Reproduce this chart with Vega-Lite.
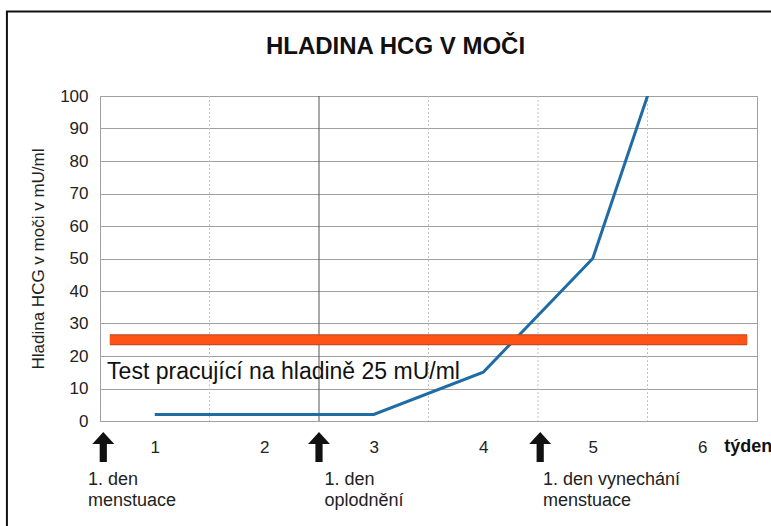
{
  "$schema": "https://vega.github.io/schema/vega-lite/v6.json",
  "width": 657,
  "height": 325,
  "autosize": "none",
  "padding": {"left": 100, "top": 96, "right": 14, "bottom": 105},
  "background": "white",
  "config": {
    "font": "Liberation Sans",
    "view": {"stroke": "#A0A0A0", "strokeWidth": 1},
    "axisX": {"grid": false, "ticks": false, "domain": false, "labelFontSize": 17, "labelColor": "#222", "labelPadding": 18, "labelFont": "Liberation Sans"},
    "axisY": {"grid": true, "gridColor": "#A0A0A0", "gridWidth": 1, "ticks": false, "domain": false, "labelFontSize": 17, "labelColor": "#222", "labelPadding": 12, "labelFont": "Liberation Sans", "titleFont": "Liberation Sans", "titleFontSize": 17, "titleFontWeight": "normal", "titleColor": "#222", "titlePadding": 12}
  },
  "title": {
    "text": "HLADINA HCG V MOČI",
    "font": "Liberation Sans",
    "fontSize": 24,
    "fontWeight": "bold",
    "color": "#111",
    "anchor": "middle",
    "dx": -33,
    "offset": -48
  },
  "layer": [
    {
      "data": {"values": [{}]},
      "mark": {"type": "rect", "fill": "transparent", "stroke": "#111", "strokeWidth": 2},
      "encoding": {
        "x": {"datum": -0.35, "type": "quantitative", "scale": {"domain": [0.5, 6.5], "zero": false, "nice": false}, "axis": {"values": [1, 2, 3, 4, 5, 6], "title": null}},
        "x2": {"datum": 8},
        "y": {"datum": 126, "type": "quantitative", "scale": {"domain": [0, 100], "zero": false, "nice": false}, "axis": {"values": [0, 10, 20, 30, 40, 50, 60, 70, 80, 90, 100], "title": "Hladina HCG v moči v mU/ml"}},
        "y2": {"datum": -40}
      }
    },
    {
      "data": {"values": [{"x": 1.5}, {"x": 3.5}, {"x": 4.5}, {"x": 5.5}]},
      "mark": {"type": "rule", "color": "#C4C4C4", "strokeWidth": 1, "strokeDash": [2, 2]},
      "encoding": {
        "x": {"field": "x", "type": "quantitative", "scale": {"domain": [0.5, 6.5], "zero": false, "nice": false}, "axis": {"values": [1, 2, 3, 4, 5, 6], "title": null}}
      }
    },
    {
      "data": {"values": [{"x": 2.5}]},
      "mark": {"type": "rule", "color": "#555555", "strokeWidth": 1},
      "encoding": {
        "x": {"field": "x", "type": "quantitative", "scale": {"domain": [0.5, 6.5], "zero": false, "nice": false}, "axis": {"values": [1, 2, 3, 4, 5, 6], "title": null}}
      }
    },
    {
      "data": {"values": [{"week": 1, "hcg": 2}, {"week": 2, "hcg": 2}, {"week": 3, "hcg": 2}, {"week": 4, "hcg": 15}, {"week": 5, "hcg": 50}, {"week": 6, "hcg": 150}]},
      "mark": {"type": "line", "color": "#1F6BA5", "strokeWidth": 3, "clip": true},
      "encoding": {
        "x": {"field": "week", "type": "quantitative", "scale": {"domain": [0.5, 6.5], "zero": false, "nice": false}, "axis": {"values": [1, 2, 3, 4, 5, 6], "title": null}},
        "y": {"field": "hcg", "type": "quantitative", "scale": {"domain": [0, 100], "zero": false, "nice": false}, "axis": {"values": [0, 10, 20, 30, 40, 50, 60, 70, 80, 90, 100], "title": "Hladina HCG v moči v mU/ml"}}
      }
    },
    {
      "data": {"values": [{"from": 0.59, "to": 6.41, "level": 25}]},
      "layer": [
        {"mark": {"type": "rule", "color": "#B8461E", "strokeWidth": 11}, "encoding": {}},
        {"mark": {"type": "rule", "color": "#FF5215", "strokeWidth": 9}, "encoding": {}}
      ],
      "encoding": {
        "x": {"field": "from", "type": "quantitative", "scale": {"domain": [0.5, 6.5], "zero": false, "nice": false}, "axis": {"values": [1, 2, 3, 4, 5, 6], "title": null}},
        "x2": {"field": "to"},
        "y": {"field": "level", "type": "quantitative", "scale": {"domain": [0, 100], "zero": false, "nice": false}, "axis": {"values": [0, 10, 20, 30, 40, 50, 60, 70, 80, 90, 100], "title": "Hladina HCG v moči v mU/ml"}}
      }
    },
    {
      "data": {"values": [
        {"x": 0.565, "y": 15.1, "label": "Test pracující na hladině 25 mU/ml"}
      ]},
      "mark": {"type": "text", "align": "left", "baseline": "middle", "fontSize": 23, "color": "#111", "font": "Liberation Sans"},
      "encoding": {
        "x": {"field": "x", "type": "quantitative", "scale": {"domain": [0.5, 6.5], "zero": false, "nice": false}, "axis": {"values": [1, 2, 3, 4, 5, 6], "title": null}},
        "y": {"field": "y", "type": "quantitative", "scale": {"domain": [0, 100], "zero": false, "nice": false}, "axis": {"values": [0, 10, 20, 30, 40, 50, 60, 70, 80, 90, 100], "title": "Hladina HCG v moči v mU/ml"}},
        "text": {"field": "label"}
      }
    },
    {
      "data": {"values": [{"x": 0.53, "y": -8}, {"x": 2.5, "y": -8}, {"x": 4.52, "y": -8}]},
      "mark": {"type": "point", "filled": true, "color": "#111", "opacity": 1, "size": 900, "shape": "M0,-1 L0.73,-0.2 L0.24,-0.2 L0.24,1 L-0.24,1 L-0.24,-0.2 L-0.73,-0.2 Z"},
      "encoding": {
        "x": {"field": "x", "type": "quantitative", "scale": {"domain": [0.5, 6.5], "zero": false, "nice": false}, "axis": {"values": [1, 2, 3, 4, 5, 6], "title": null}},
        "y": {"field": "y", "type": "quantitative", "scale": {"domain": [0, 100], "zero": false, "nice": false}, "axis": {"values": [0, 10, 20, 30, 40, 50, 60, 70, 80, 90, 100], "title": "Hladina HCG v moči v mU/ml"}}
      }
    },
    {
      "data": {"values": [
        {"x": 0.39, "y": -15.4, "label": "1. den\nmenstuace"},
        {"x": 2.55, "y": -15.4, "label": "1. den\noplodnění"},
        {"x": 4.545, "y": -15.4, "label": "1. den vynechání\nmenstuace"}
      ]},
      "mark": {"type": "text", "align": "left", "baseline": "top", "fontSize": 18, "lineHeight": 21, "lineBreak": "\n", "color": "#222", "font": "Liberation Sans"},
      "encoding": {
        "x": {"field": "x", "type": "quantitative", "scale": {"domain": [0.5, 6.5], "zero": false, "nice": false}, "axis": {"values": [1, 2, 3, 4, 5, 6], "title": null}},
        "y": {"field": "y", "type": "quantitative", "scale": {"domain": [0, 100], "zero": false, "nice": false}, "axis": {"values": [0, 10, 20, 30, 40, 50, 60, 70, 80, 90, 100], "title": "Hladina HCG v moči v mU/ml"}},
        "text": {"field": "label"}
      }
    },
    {
      "data": {"values": [{"x": 6.2, "y": -8, "label": "týden"}]},
      "mark": {"type": "text", "align": "left", "baseline": "middle", "fontSize": 18, "fontWeight": "bold", "color": "#111", "font": "Liberation Sans"},
      "encoding": {
        "x": {"field": "x", "type": "quantitative", "scale": {"domain": [0.5, 6.5], "zero": false, "nice": false}, "axis": {"values": [1, 2, 3, 4, 5, 6], "title": null}},
        "y": {"field": "y", "type": "quantitative", "scale": {"domain": [0, 100], "zero": false, "nice": false}, "axis": {"values": [0, 10, 20, 30, 40, 50, 60, 70, 80, 90, 100], "title": "Hladina HCG v moči v mU/ml"}},
        "text": {"field": "label"}
      }
    }
  ]
}
